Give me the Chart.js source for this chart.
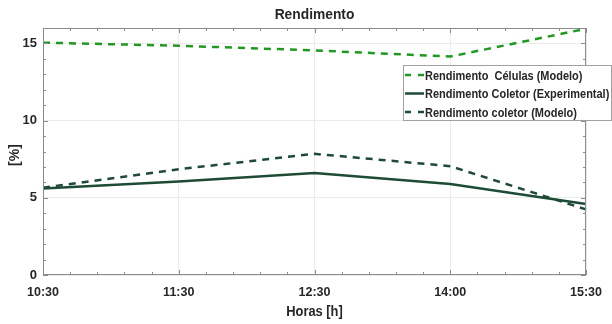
<!DOCTYPE html>
<html>
<head>
<meta charset="utf-8">
<script src="https://cdn.jsdelivr.net/npm/chart.js@4"></script>
<style>
  html, body { margin: 0; padding: 0; background: #fff; }
  #wrap { width: 612px; height: 324px; }
</style>
</head>
<body>
<div id="wrap"><canvas id="chart" width="612" height="324"></canvas></div>
<script>
const horas = ["10:30", "11:30", "12:30", "14:00", "15:30"];
const celulasModelo = [15.05, 14.85, 14.55, 14.15, 15.95];
const coletorExperimental = [5.6, 6.05, 6.6, 5.9, 4.6];
const coletorModelo = [5.65, 6.85, 7.85, 7.05, 4.25];
const yTicks = [0, 5, 10, 15];

const FONT = '"Liberation Sans Narrow", "Liberation Sans", Arial, sans-serif';
const GREEN = '#1f9a1f';
const DARK = '#1d4b35';
const TEXT = '#262626';
const AXIS = '#8c8c8c';

// draw text squeezed horizontally (narrow look)
function narrowText(ctx, str, x, y, sx) {
  ctx.save();
  ctx.translate(x, y);
  ctx.scale(sx, 1);
  ctx.fillText(str, 0, 0);
  ctx.restore();
}

// box around the plot with inward ticks on all four sides, title and axis names
const frame = {
  id: 'frame',
  afterDatasetsDraw(chart) {
    const {ctx, chartArea: a, scales: {x, y}} = chart;
    ctx.save();
    ctx.strokeStyle = AXIS;
    ctx.lineWidth = 1;
    ctx.strokeRect(a.left + 0.5, a.top + 0.5, a.right - a.left - 1, a.bottom - a.top - 1);

    ctx.beginPath();
    for (let v = 0; v <= 16; v++) {
      const py = Math.round(y.getPixelForValue(v)) + 0.5;
      const len = v % 5 === 0 ? 5 : 3;
      ctx.moveTo(a.left, py); ctx.lineTo(a.left + len, py);
      ctx.moveTo(a.right, py); ctx.lineTo(a.right - len, py);
    }
    for (let i = 0; i < horas.length; i++) {
      for (let k = 0; k < 5; k++) {
        if (i === horas.length - 1 && k > 0) break;
        const px = Math.round(x.getPixelForValue(i + k / 5)) + 0.5;
        const len = k === 0 ? 5 : 3;
        ctx.moveTo(px, a.bottom); ctx.lineTo(px, a.bottom - len);
        ctx.moveTo(px, a.top); ctx.lineTo(px, a.top + len);
      }
    }
    ctx.stroke();

    ctx.fillStyle = TEXT;
    ctx.textAlign = 'center';
    ctx.textBaseline = 'middle';
    ctx.font = 'bold 15px ' + FONT;
    narrowText(ctx, 'Rendimento', (a.left + a.right) / 2, 15, 0.92);
    ctx.font = 'bold 14px ' + FONT;
    narrowText(ctx, 'Horas [h]', (a.left + a.right) / 2, 312, 0.92);
    ctx.translate(15, 155);
    ctx.rotate(-Math.PI / 2);
    ctx.fillText('[%]', 0, 0);
    ctx.restore();
  }
};

// legend box sitting over the upper right of the plot
const legendBox = {
  id: 'legendBox',
  afterDraw(chart) {
    const ctx = chart.ctx;
    const box = {left: 403.5, top: 65.5, right: 611.5, bottom: 120.5};
    ctx.save();
    ctx.fillStyle = '#fff';
    ctx.fillRect(box.left, box.top, box.right - box.left, box.bottom - box.top);
    ctx.strokeStyle = '#a0a0a0';
    ctx.lineWidth = 1;
    ctx.strokeRect(box.left, box.top, box.right - box.left, box.bottom - box.top);

    ctx.font = 'bold 13px ' + FONT;
    ctx.textBaseline = 'middle';
    ctx.textAlign = 'left';
    chart.data.datasets.forEach((ds, i) => {
      const cy = 75 + i * 18.5;
      ctx.strokeStyle = ds.borderColor;
      ctx.lineWidth = 2.5;
      ctx.setLineDash(ds.borderDash && ds.borderDash.length ? [6, 7] : []);
      ctx.beginPath();
      ctx.moveTo(405, cy); ctx.lineTo(424, cy);
      ctx.stroke();
      ctx.setLineDash([]);
      ctx.fillStyle = TEXT;
      narrowText(ctx, ds.label, 425, cy + 1, 0.845);
    });
    ctx.restore();
  }
};

new Chart(document.getElementById('chart'), {
  type: 'line',
  data: {
    labels: horas,
    datasets: [
      {label: 'Rendimento  Células (Modelo)', data: celulasModelo,
       borderColor: GREEN, borderWidth: 2.5, borderDash: [7, 6]},
      {label: 'Rendimento Coletor (Experimental)', data: coletorExperimental,
       borderColor: DARK, borderWidth: 2.5},
      {label: 'Rendimento coletor (Modelo)', data: coletorModelo,
       borderColor: DARK, borderWidth: 2.5, borderDash: [7, 6]}
    ]
  },
  options: {
    responsive: false,
    animation: false,
    layout: {padding: {top: 28, right: 17, left: 0, bottom: 0}},
    elements: {point: {radius: 0}, line: {tension: 0, fill: false}},
    plugins: {legend: {display: false}, title: {display: false}, tooltip: {enabled: false}},
    scales: {
      x: {
        offset: false,
        grid: {color: '#ebebeb', drawTicks: false},
        border: {display: false},
        ticks: {color: TEXT, font: {family: FONT, size: 12.5, weight: 'bold'}, padding: 10, maxRotation: 0},
        afterFit(scale) { scale.height = 49; }
      },
      y: {
        min: 0, max: 16,
        afterBuildTicks(scale) { scale.ticks = yTicks.map(v => ({value: v})); },
        grid: {color: '#ebebeb', drawTicks: false},
        border: {display: false},
        ticks: {color: TEXT, font: {family: FONT, size: 13, weight: 'bold'}, padding: 6},
        afterFit(scale) { scale.width = 43; }
      }
    }
  },
  plugins: [frame, legendBox]
});
</script>
</body>
</html>
